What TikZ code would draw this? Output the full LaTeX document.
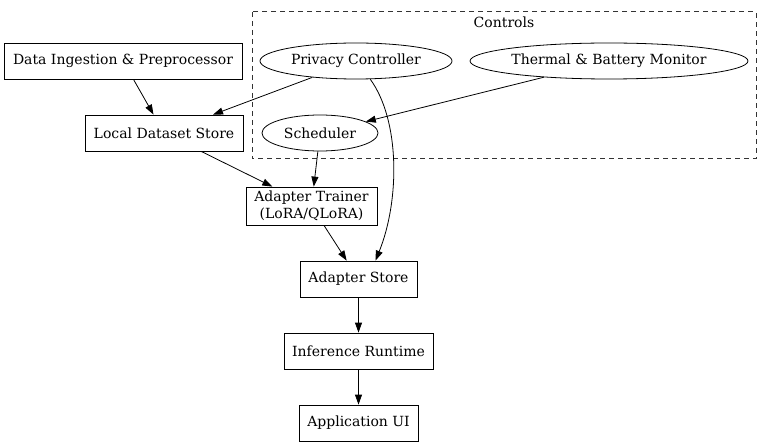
\documentclass[tikz,border=0pt]{standalone}
\usepackage{fontspec}
\setmainfont{DejaVu Serif}
\usetikzlibrary{shapes.geometric,arrows.meta}
\begin{document}
\begin{tikzpicture}[x=1pt,y=-1pt,
  every node/.style={font=\fontsize{14}{16.5}\selectfont, inner sep=0pt},
  boxnode/.style={draw, line width=0.8pt, minimum height=36pt},
  ellnode/.style={draw, ellipse, line width=0.8pt, minimum height=36pt},
  conn/.style={draw, line width=0.8pt, -{Triangle[length=10pt,width=7pt]}},
  clusterbox/.style={draw=black!80, line width=1pt, dash pattern=on 5pt off 4pt}]
\useasboundingbox (0,0) rectangle (768,446);
\draw[clusterbox] (252,12) rectangle (756,159);
\node (ctl) at (504,22) {Controls};
\node[boxnode, minimum width=238pt] (ing) at (123,61) {Data Ingestion \& Preprocessor};
\node[ellnode, minimum width=192pt] (pc) at (356,61) {Privacy Controller};
\node[ellnode, minimum width=278pt] (tb) at (609,61) {Thermal \& Battery Monitor};
\node[boxnode, minimum width=158pt] (lds) at (164,133) {Local Dataset Store};
\node[ellnode, minimum width=116pt] (sch) at (320,133) {Scheduler};
\node[boxnode, minimum width=131pt, minimum height=38pt, align=center] (at) at (311.5,206) {Adapter Trainer\\(LoRA/QLoRA)};
\node[boxnode, minimum width=117pt] (as) at (358.5,279) {Adapter Store};
\node[boxnode, minimum width=149pt] (ir) at (358.5,351) {Inference Runtime};
\node[boxnode, minimum width=119pt] (ui) at (358.5,423) {Application UI};
\draw[conn] (ing) -- (lds);
\draw[conn] (pc) -- (lds);
\draw[conn] (tb) -- (sch);
\draw[conn] (lds) -- (at);
\draw[conn] (sch) -- (at);
\draw[conn] (at) -- (as);
\draw[conn] (pc.-52) .. controls (400,120) and (400,200) .. ([xshift=17pt]as.north);
\draw[conn] (as) -- (ir);
\draw[conn] (ir) -- (ui);
\end{tikzpicture}
\end{document}
